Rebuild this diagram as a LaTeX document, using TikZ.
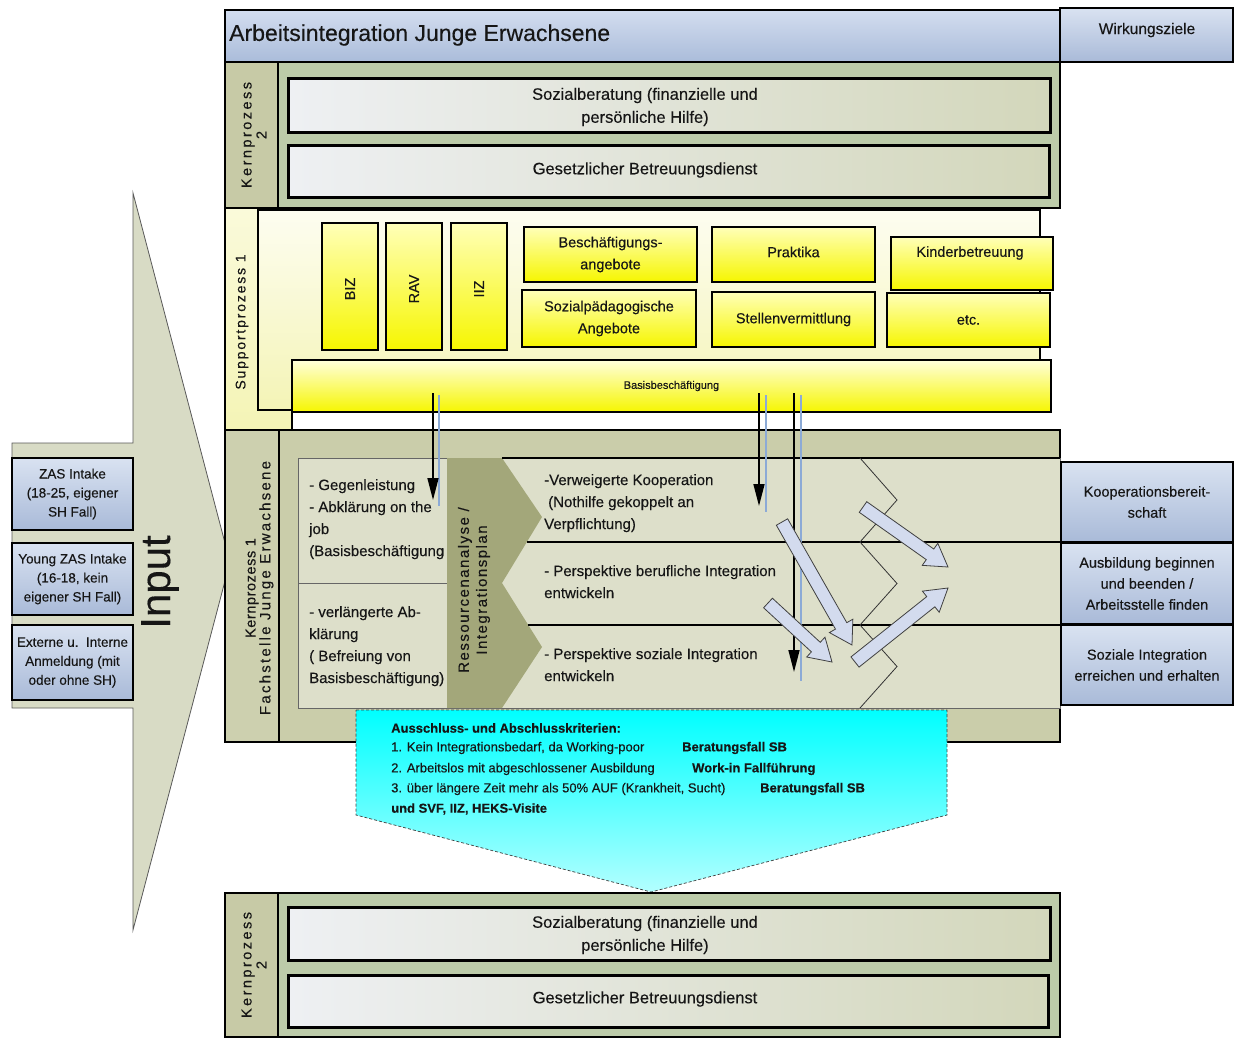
\documentclass[tikz,border=0pt]{standalone}
\usepackage{fontspec}
\setmainfont{Liberation Sans}[FakeBold=0.25]
\usetikzlibrary{calc,arrows.meta}

\definecolor{ink}{HTML}{161616}
\definecolor{blueL}{HTML}{D9E2F1}
\definecolor{blueD}{HTML}{A9BAD8}
\definecolor{headL}{HTML}{D3DDEF}
\definecolor{headD}{HTML}{AABCDA}
\definecolor{sage}{HTML}{BCCBA9}
\definecolor{labcol}{HTML}{C7CAA6}
\definecolor{paleL}{HTML}{EEF0F3}
\definecolor{paleR}{HTML}{D3D7BB}
\definecolor{kernbg}{HTML}{CACDAA}
\definecolor{kernlab}{HTML}{CDD0AF}
\definecolor{cellbg}{HTML}{DDDFCA}
\definecolor{olivecol}{HTML}{A3A77A}
\definecolor{yelL}{HTML}{FFFFB8}
\definecolor{yelD}{HTML}{F6F600}
\definecolor{supL}{HTML}{FAFADA}
\definecolor{supD}{HTML}{F4F4B6}
\definecolor{inputbg}{HTML}{D8DBC5}
\definecolor{fatfill}{HTML}{D3DBEE}
\definecolor{shadowblue}{HTML}{8CAAD6}

% block arrow between the named coordinates <name>s (tail) and <name>e (tip)
\newcommand{\fatarrow}[1]{%
  \coordinate (#1h) at ($(#1e)!22pt!(#1s)$);
  \draw[fatarr] ($(#1s)!6.5pt!90:(#1e)$) -- ($(#1h)!6.5pt!90:(#1e)$)
    -- ($(#1h)!13.5pt!90:(#1e)$) -- (#1e) -- ($(#1h)!13.5pt!-90:(#1e)$)
    -- ($(#1h)!6.5pt!-90:(#1e)$) -- ($(#1s)!6.5pt!-90:(#1e)$) -- cycle;}

\begin{document}
\begin{tikzpicture}[x=1pt,y=-1pt,
  every node/.style={text=ink, inner sep=0pt},
  bluebox/.style={draw=black, line width=2.4pt, top color=blueL, bottom color=blueD},
  palebox/.style={draw=black, line width=3pt, left color=paleL, right color=paleR},
  yelbox/.style={draw=black, line width=2.4pt, top color=yelL, bottom color=yelD},
  frame/.style={draw=black, line width=2.2pt},
  cell/.style={draw=black!60, line width=1pt, fill=cellbg},
  fatarr/.style={draw=black!75, line width=0.8pt, fill=fatfill, line join=miter},
  downarr/.style={draw=black, line width=1.6pt, -{Triangle[length=22pt,width=11pt]}},
  shadeline/.style={draw=shadowblue, line width=1.3pt},
  chev/.style={draw=black!80, line width=0.8pt},
  rowline/.style={draw=black, line width=2.2pt},
  fA/.style={font=\fontsize{16.5}{23}\selectfont, align=center},
  fB/.style={font=\fontsize{15}{22}\selectfont, align=left},
  fC/.style={font=\fontsize{14.5}{22}\selectfont, align=center},
  fD/.style={font=\fontsize{13.5}{19}\selectfont, align=center},
  fR/.style={font=\fontsize{14.5}{15}\selectfont\addfontfeature{LetterSpace=17}, align=center},
  fE/.style={font=\fontsize{13}{15}\selectfont, anchor=west},
  fEb/.style={font=\fontsize{13}{15}\selectfont\bfseries, anchor=west},
]
\useasboundingbox (0,0) rectangle (1237,1039);

% ---------- input arrow and intake boxes ----------
\path[draw=black!65, line width=0.8pt, fill=inputbg]
  (12,443) -- (133,443) -- (133,193) -- (230,562) -- (133,930) -- (133,708) -- (12,708) -- cycle;
\node[rotate=90, font=\fontsize{42}{42}\selectfont] (input) at (160,582) {Input};
\node[bluebox, minimum width=121, minimum height=72, fD] (in1) at (72.5,494) {ZAS Intake\\(18-25, eigener\\SH Fall)};
\node[bluebox, minimum width=121, minimum height=72, fD] (in2) at (72.5,579) {Young ZAS Intake\\(16-18, kein\\eigener SH Fall)};
\node[bluebox, minimum width=121, minimum height=75, fD] (in3) at (72.5,662.5) {Externe u.\ \ Interne\\Anmeldung (mit\\oder ohne SH)};

% ---------- title bar ----------
\node[draw=black, line width=2pt, top color=headL, bottom color=headD, minimum width=835, minimum height=52] (head) at (642.5,36) {};
\node[anchor=west, font=\fontsize{23}{23}\selectfont] (headt) at (229,35) {Arbeitsintegration Junge Erwachsene};
\node[bluebox, minimum width=173, minimum height=54] (wz) at (1146.5,35) {};
\node[font=\fontsize{15.5}{16}\selectfont] (wzt) at (1147,30) {Wirkungsziele};

% ---------- Kernprozess 2 (top) ----------
\node[frame, fill=sage, minimum width=835, minimum height=146] (k2a) at (642.5,135) {};
\node[frame, fill=labcol, minimum width=53, minimum height=146] (k2alab) at (251.5,135) {};
\node[rotate=90, fR] (k2alabt) at (254,135) {Kernprozess\\2};
\node[palebox, minimum width=762, minimum height=54] (soz1) at (669,105) {};
\node[fA] (soz1t) at (645,107) {Sozialberatung (finanzielle und\\persönliche Hilfe)};
\node[palebox, minimum width=761, minimum height=52] (ges1) at (668.5,171) {};
\node[fA] (ges1t) at (645,170) {Gesetzlicher Betreuungsdienst};

% ---------- Supportprozess 1 ----------
\path[draw=black, line width=1.6pt, top color=supL, bottom color=supD]
  (225,208) -- (258,208) -- (258,410) -- (292,410) -- (292,430) -- (225,430) -- cycle;
\node[rotate=90, font=\fontsize{14}{15}\selectfont\addfontfeature{LetterSpace=13}] (suplab) at (242,322) {Supportprozess 1};
\node[frame, top color=white!60!supL, bottom color=supD, minimum width=782, minimum height=200] (supframe) at (649,310) {};
\node[draw=black, line width=2.4pt, top color=yelL!50, bottom color=yelD, minimum width=759, minimum height=52,
      font=\fontsize{11}{12}\selectfont] (basis) at (671.5,386) {Basisbeschäftigung};

\node[yelbox, minimum width=56, minimum height=127] (biz) at (350,286.5) {};
\node[rotate=90, font=\fontsize{14.5}{15}\selectfont] (bizt) at (350,289) {BIZ};
\node[yelbox, minimum width=56, minimum height=127] (rav) at (414,286.5) {};
\node[rotate=90, font=\fontsize{14.5}{15}\selectfont] (ravt) at (414,289) {RAV};
\node[yelbox, minimum width=56, minimum height=127] (iiz) at (479,286.5) {};
\node[rotate=90, font=\fontsize{14.5}{15}\selectfont] (iizt) at (479,289) {IIZ};

\node[yelbox, minimum width=173, minimum height=55, fC] (besch) at (610.5,254.5) {Beschäftigungs-\\angebote};
\node[yelbox, minimum width=174, minimum height=57, fC] (sozp) at (609,318.5) {Sozialpädagogische\\Angebote};
\node[yelbox, minimum width=163, minimum height=55] (prak) at (793.5,254.5) {};
\node[fC] (prakt) at (793.5,252) {Praktika};
\node[yelbox, minimum width=163, minimum height=55, fC] (stell) at (793.5,319.5) {Stellenvermittlung};
\node[yelbox, minimum width=162, minimum height=53] (kind) at (972,263.5) {};
\node[fC] (kindt) at (970,253) {Kinderbetreuung};
\node[yelbox, minimum width=163, minimum height=54, fC] (etc) at (968.5,320) {etc.};

% ---------- Kernprozess 1 ----------
\node[frame, line width=2.4pt, fill=kernbg, minimum width=835, minimum height=312] (k1) at (642.5,586) {};
\node[frame, fill=kernlab, minimum width=54, minimum height=312] (k1lab) at (252,586) {};
\node[rotate=90, align=center] (k1labt) at (259.5,588)
  {{\fontsize{14.5}{16}\selectfont\addfontfeature{LetterSpace=4}Kernprozess 1}\\
   {\fontsize{15}{16}\selectfont\addfontfeature{LetterSpace=15}Fachstelle Junge Erwachsene}};

\node[cell, minimum width=762, minimum height=250] (panel) at (679,583) {};
\node[cell, minimum width=149, minimum height=125] (cellA) at (372.5,520.5) {};
\node[cell, minimum width=149, minimum height=125] (cellB) at (372.5,645.5) {};
\node[fB, anchor=north west] (cellAt) at (309,479) {- Gegenleistung\\- Abklärung on the\\job\\(Basisbeschäftigung};
\node[fB, anchor=north west] (cellBt) at (309,606) {- verlängerte Ab-\\klärung\\( Befreiung von\\Basisbeschäftigung)};

% resource analysis column with two chevrons
\path[fill=olivecol] (447,458) -- (502,458) -- (542,517) -- (502,583) -- (542,647) -- (502,708) -- (447,708) -- cycle;
\node[rotate=90, font=\fontsize{15}{18}\selectfont\addfontfeature{LetterSpace=10}, align=center] (res) at (474,590) {Ressourcenanalyse /\\Integrationsplan};

% three result rows
\draw[rowline] (502,458) -- (1060,458);
\draw[rowline] (527,542) -- (1060,542);
\draw[rowline] (528,625) -- (1060,625);
\draw[chev] (860,458) -- (897,500) -- (860,542);
\draw[chev] (860,542) -- (897,583.5) -- (860,625);
\draw[chev] (860,625) -- (897,666.5) -- (860,708);

\node[fB, anchor=north west] (r1t) at (544,474) {-Verweigerte Kooperation\\\hspace*{4pt}(Nothilfe gekoppelt an\\Verpflichtung)};
\node[fB, anchor=north west] (r2t) at (544,565) {- Perspektive berufliche Integration\\entwickeln};
\node[fB, anchor=north west] (r3t) at (544,648) {- Perspektive soziale Integration\\entwickeln};

% ---------- Wirkungsziele column ----------
\node[bluebox, minimum width=172, minimum height=80, font=\fontsize{14.5}{21}\selectfont, align=center] (out1) at (1147,502) {Kooperationsbereit-\\schaft};
\node[bluebox, minimum width=172, minimum height=81, font=\fontsize{14.5}{21}\selectfont, align=center] (out2) at (1147,583.5) {Ausbildung beginnen\\und beenden /\\Arbeitsstelle finden};
\node[bluebox, minimum width=172, minimum height=80, font=\fontsize{14.5}{21}\selectfont, align=center] (out3) at (1147,665) {Soziale Integration\\erreichen und erhalten};

% ---------- arrows from Basisbeschäftigung ----------
\coordinate (a1s) at (433,393);  \coordinate (a1e) at (433,500);
\coordinate (a2s) at (759,393);  \coordinate (a2e) at (759,506);
\coordinate (a3s) at (794,393);  \coordinate (a3e) at (794,672);
\coordinate (b1s) at (439,395);  \coordinate (b1e) at (439,506);
\coordinate (b2s) at (766,395);  \coordinate (b2e) at (766,512);
\coordinate (b3s) at (801,395);  \coordinate (b3e) at (801,681);
\draw[shadeline] (b1s) -- (b1e);
\draw[shadeline] (b2s) -- (b2e);
\draw[shadeline] (b3s) -- (b3e);
\draw[downarr] (a1s) -- (a1e);
\draw[downarr] (a2s) -- (a2e);
\draw[downarr] (a3s) -- (a3e);

% ---------- block arrows between the rows ----------
\coordinate (f1s) at (782,522); \coordinate (f1e) at (852,645);
\coordinate (f2s) at (768,603); \coordinate (f2e) at (832,662);
\coordinate (f3s) at (863,507); \coordinate (f3e) at (948,567);
\coordinate (f4s) at (855,662); \coordinate (f4e) at (948,588);
\fatarrow{f1}
\fatarrow{f2}
\fatarrow{f3}
\fatarrow{f4}

% ---------- exclusion criteria ----------
\path[draw=black!75, densely dashed, line width=0.7pt, top color=cyan, bottom color=cyan!30]
  (356,710) -- (947,710) -- (947,815) -- (651,892) -- (356,815) -- cycle;
\node[fEb] (cx0) at (391,728) {Ausschluss- und Abschlusskriterien:};
\node[fE] (cx1) at (391,748) {1. Kein Integrationsbedarf, da Working-poor};
\node[fEb] (cx1b) at (682,748) {Beratungsfall SB};
\node[fE] (cx2) at (391,769) {2. Arbeitslos mit abgeschlossener Ausbildung};
\node[fEb] (cx2b) at (692,769) {Work-in Fallführung};
\node[fE] (cx3) at (391,789) {3. über längere Zeit mehr als 50\% AUF (Krankheit, Sucht)};
\node[fEb] (cx3b) at (760,789) {Beratungsfall SB};
\node[fEb] (cx4) at (391,809) {und SVF, IIZ, HEKS-Visite};

% ---------- Kernprozess 2 (bottom) ----------
\node[frame, fill=sage, minimum width=835, minimum height=144] (k2b) at (642.5,965) {};
\node[frame, fill=labcol, minimum width=53, minimum height=144] (k2blab) at (251.5,965) {};
\node[rotate=90, fR] (k2blabt) at (254,965) {Kernprozess\\2};
\node[palebox, minimum width=762, minimum height=53] (soz2) at (669,933.5) {};
\node[fA] (soz2t) at (645,935) {Sozialberatung (finanzielle und\\persönliche Hilfe)};
\node[palebox, minimum width=760, minimum height=52] (ges2) at (668,1001) {};
\node[fA] (ges2t) at (645,999) {Gesetzlicher Betreuungsdienst};
\end{tikzpicture}
\end{document}
